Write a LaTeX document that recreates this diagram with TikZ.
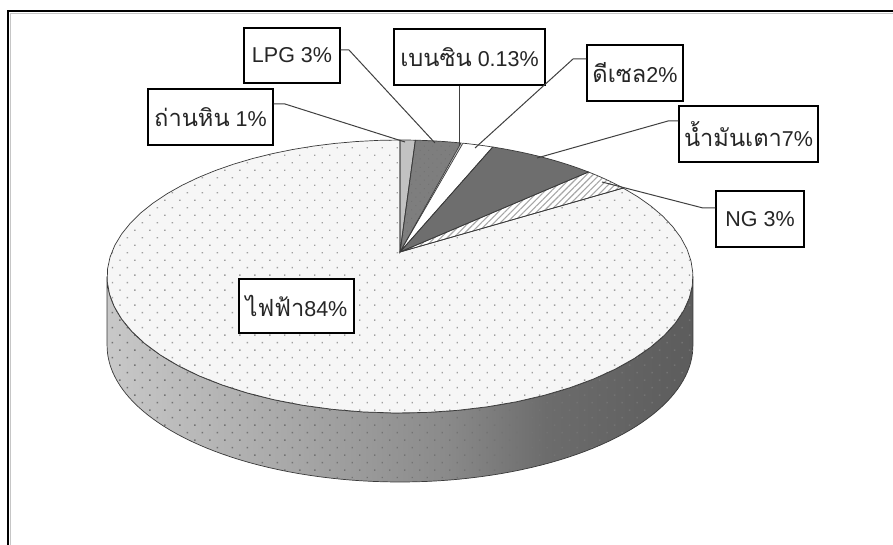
\documentclass[tikz,border=0pt]{standalone}
\usepackage{fontspec}
\setmainfont{Liberation Sans}
\newfontfamily\thaifont[Script=Thai,Scale=1.1]{Loma}
\usetikzlibrary{patterns.meta}

% colours of the chart
\definecolor{wallA}{HTML}{C8C8C8}
\definecolor{wallB}{HTML}{A6A6A6}
\definecolor{wallC}{HTML}{8A8A8A}
\definecolor{wallD}{HTML}{6C6C6C}
\definecolor{wallE}{HTML}{5C5C5C}
\definecolor{edgecol}{HTML}{3A3A3A}
\definecolor{leadcol}{HTML}{404040}
\definecolor{topface}{HTML}{F6F6F6}
\definecolor{coalcol}{HTML}{C2C2C2}
\definecolor{lpgcol}{HTML}{7E7E7E}
\definecolor{oilcol}{HTML}{6E6E6E}

% side wall: light on the left, dark on the right
\pgfdeclarehorizontalshading{wallshade}{100bp}{%
  color(0bp)=(wallA); color(25bp)=(wallA); color(41.5bp)=(wallB);
  color(54bp)=(wallC); color(62.5bp)=(wallD); color(75bp)=(wallE);
  color(100bp)=(wallE)}

% wedge of the top face between two rim angles
\newcommand{\slicepath}[2]{(O) -- plot[domain=#1:#2,samples=60,variable=\t] ({px(\t)},{py(\t)}) -- cycle}

\begin{document}
\begin{tikzpicture}[x=1pt,y=-1pt,
  declare function={px(\t)=400+288.2*cos(\t)/(1+0.1795*sin(\t));
                    py(\t)=252-132.1*sin(\t)/(1+0.1795*sin(\t));},
  lbl/.style={draw=black,line width=1.3pt,fill=white,inner sep=1pt,
              font=\fontsize{21.5}{24}\selectfont,text=black!85},
  leader/.style={draw=leadcol,line width=1pt},
  edge/.style={draw=edgecol,line width=0.7pt},
  topdots/.style={pattern={Dots[distance=10.6pt,angle=45,radius=0.95pt]},pattern color=gray!75},
  walldots/.style={pattern={Dots[distance=10.6pt,angle=45,radius=1pt]},pattern color=black!55}]

\useasboundingbox (0,0) rectangle (893,545);
\fill[white] (0,0) rectangle (893,545);

% outer frame
\draw[gray!45,line width=1pt] (10.5,545) -- (10.5,13.5) -- (893,13.5);
\draw[black,line width=2pt] (8,545) -- (8,11) -- (893,11);

\coordinate (O) at (400,252);

% front side wall
\shade[shading=wallshade]
  plot[domain=-169.66:-10.34,samples=90,variable=\t] ({px(\t)},{py(\t)})
  -- plot[domain=-10.34:-169.66,samples=90,variable=\t] ({px(\t)},{py(\t)+69}) -- cycle;
\fill[walldots]
  plot[domain=-169.66:-10.34,samples=90,variable=\t] ({px(\t)},{py(\t)})
  -- plot[domain=-10.34:-169.66,samples=90,variable=\t] ({px(\t)},{py(\t)+69}) -- cycle;
\draw[edge]
  plot[domain=-169.66:-10.34,samples=90,variable=\t] ({px(\t)},{py(\t)})
  -- plot[domain=-10.34:-169.66,samples=90,variable=\t] ({px(\t)},{py(\t)+69}) -- cycle;

% top face slices
\fill[topface] \slicepath{32.01}{-270};
\fill[topdots] \slicepath{32.01}{-270};
\fill[coalcol] \slicepath{90}{86.40};
\fill[lpgcol] \slicepath{86.40}{75.62};
\fill[pattern={Dots[distance=6pt,angle=45,radius=0.7pt]},pattern color=black!55] \slicepath{86.40}{75.62};
\fill[gray!40] \slicepath{75.62}{75.15};
\fill[white] \slicepath{75.15}{67.96};
\fill[oilcol] \slicepath{67.96}{42.79};
\fill[white] \slicepath{42.79}{32.01};
\fill[pattern={Lines[angle=45,distance=4.5pt,line width=1.1pt]},pattern color=gray!70] \slicepath{42.79}{32.01};

\draw[edge] \slicepath{90}{86.40};
\draw[edge] \slicepath{86.40}{75.62};
\draw[edge] \slicepath{75.15}{67.96};
\draw[edge] \slicepath{67.96}{42.79};
\draw[edge] \slicepath{42.79}{32.01};
\draw[edge] \slicepath{32.01}{-270};

% data labels
\node[lbl,minimum width=125pt,minimum height=56pt] (coal) at (210.5,117) {{\thaifont ถ่านหิน} 1\%};
\node[lbl,minimum width=96pt,minimum height=55pt] (lpg) at (292,55.5) {LPG 3\%};
\node[lbl,minimum width=151pt,minimum height=56pt] (benz) at (469.5,57) {{\thaifont เบนซิน} 0.13\%};
\node[lbl,minimum width=96pt,minimum height=56pt] (dies) at (635,73) {{\thaifont ดีเซล}2\%};
\node[lbl,minimum width=139pt,minimum height=56pt] (oil) at (748.5,134) {{\thaifont น้ำมันเตา}7\%};
\node[lbl,minimum width=88pt,minimum height=56pt] (ng) at (760,219) {NG 3\%};
\node[lbl,minimum width=115pt,minimum height=54pt] (elec) at (296.5,306) {{\thaifont ไฟฟ้า}84\%};

% leader line bends and ends
\coordinate (coal-k) at (285,104);  \coordinate (coal-p) at (405,142);
\coordinate (lpg-k) at (349,50);    \coordinate (lpg-p) at (435,143);
\coordinate (benz-p) at (459,146);
\coordinate (dies-k) at (573,59);   \coordinate (dies-p) at (475,148);
\coordinate (oil-k) at (668,121);   \coordinate (oil-p) at (537,158);
\coordinate (ng-k) at (703,208);    \coordinate (ng-p) at (602,182);

\draw[leader] (coal.east |- coal-k) -- (coal-k) -- (coal-p);
\draw[leader] (lpg.east |- lpg-k) -- (lpg-k) -- (lpg-p);
\draw[leader] (benz.south -| benz-p) -- (benz-p);
\draw[leader] (dies.west |- dies-k) -- (dies-k) -- (dies-p);
\draw[leader] (oil.west |- oil-k) -- (oil-k) -- (oil-p);
\draw[leader] (ng.west |- ng-k) -- (ng-k) -- (ng-p);
\end{tikzpicture}
\end{document}
